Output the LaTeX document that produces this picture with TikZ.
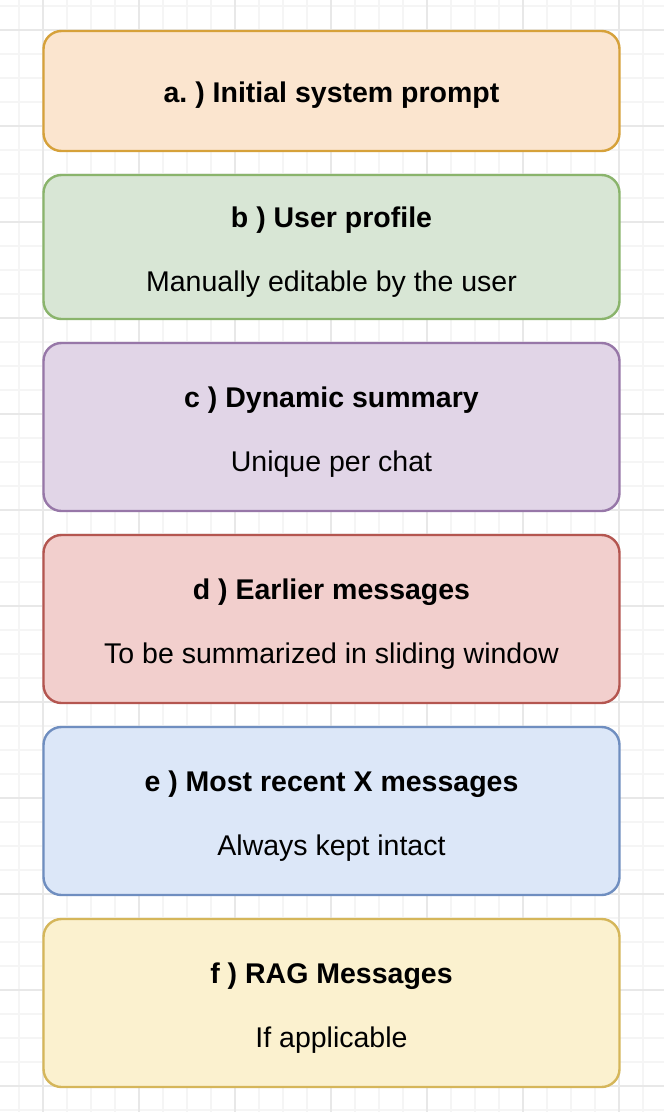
\documentclass[tikz,border=0pt]{standalone}
\usepackage{fontspec}
\setmainfont{Liberation Sans}
\usetikzlibrary{positioning}
\frenchspacing

\definecolor{gridminor}{HTML}{F5F5F5}
\definecolor{gridmajor}{HTML}{E8E8E8}
\definecolor{orangefill}{HTML}{FBE5CF}
\definecolor{orangeline}{HTML}{D6A13A}
\definecolor{greenfill}{HTML}{D8E6D5}
\definecolor{greenline}{HTML}{8AB46C}
\definecolor{purplefill}{HTML}{E1D5E7}
\definecolor{purpleline}{HTML}{9777A8}
\definecolor{redfill}{HTML}{F2CFCD}
\definecolor{redline}{HTML}{B45650}
\definecolor{bluefill}{HTML}{DCE7F8}
\definecolor{blueline}{HTML}{6F8EC0}
\definecolor{yellowfill}{HTML}{FBF1CF}
\definecolor{yellowline}{HTML}{D5B65A}

\tikzset{
    layer/.style={draw, rounded corners=18pt, line width=2.4pt,
        minimum width=576pt, minimum height=168pt, inner sep=0pt, outer sep=0pt},
    title/.style={font=\fontsize{28.5}{34}\selectfont\bfseries, anchor=base},
    note/.style={font=\fontsize{28.5}{34}\selectfont, anchor=base}
}

\begin{document}
\begin{tikzpicture}[x=1pt,y=-1pt]
        \useasboundingbox[fill=white] (0,0) rectangle (664,1112);
        % grid
        \foreach \x in {19,43,...,667}
        \draw[gridminor, line width=1.2pt] (\x,0) -- (\x,1112);
        \foreach \y in {6,30,...,1110}
        \draw[gridminor, line width=1.2pt] (0,\y) -- (664,\y);
        \foreach \x in {43,139,...,619}
        \draw[gridmajor, line width=1.2pt] (\x,0) -- (\x,1112);
        \foreach \y in {30,126,...,1086}
        \draw[gridmajor, line width=1.2pt] (0,\y) -- (664,\y);

        % layers of the prompt
        \node[layer, fill=orangefill, draw=orangeline, minimum height=120pt] (a) at (331.5,91) {};
        \node[layer, fill=greenfill, draw=greenline, minimum height=144pt, below=24pt of a] (b) {};
        \node[layer, fill=purplefill, draw=purpleline, below=24pt of b] (c) {};
        \node[layer, fill=redfill, draw=redline, below=24pt of c] (d) {};
        \node[layer, fill=bluefill, draw=blueline, below=24pt of d] (e) {};
        \node[layer, fill=yellowfill, draw=yellowline, below=24pt of e] (f) {};

        \node[title] (atitle) at ([yshift=-11pt]a.center) {a. ) Initial system prompt};
        \node[title] (btitle) at ([yshift=20pt]b.center) {b ) User profile};
        \node[note] (bnote) at ([yshift=-44.5pt]b.center) {Manually editable by the user};
        \node[title] (ctitle) at ([yshift=20pt]c.center) {c ) Dynamic summary};
        \node[note] (cnote) at ([yshift=-44.5pt]c.center) {Unique per chat};
        \node[title] (dtitle) at ([yshift=20pt]d.center) {d ) Earlier messages};
        \node[note] (dnote) at ([yshift=-44.5pt]d.center) {To be summarized in sliding window};
        \node[title] (etitle) at ([yshift=20pt]e.center) {e ) Most recent X messages};
        \node[note] (enote) at ([yshift=-44.5pt]e.center) {Always kept intact};
        \node[title] (ftitle) at ([yshift=20pt]f.center) {f ) RAG Messages};
        \node[note] (fnote) at ([yshift=-44.5pt]f.center) {If applicable};
    \end{tikzpicture}
\end{document}
